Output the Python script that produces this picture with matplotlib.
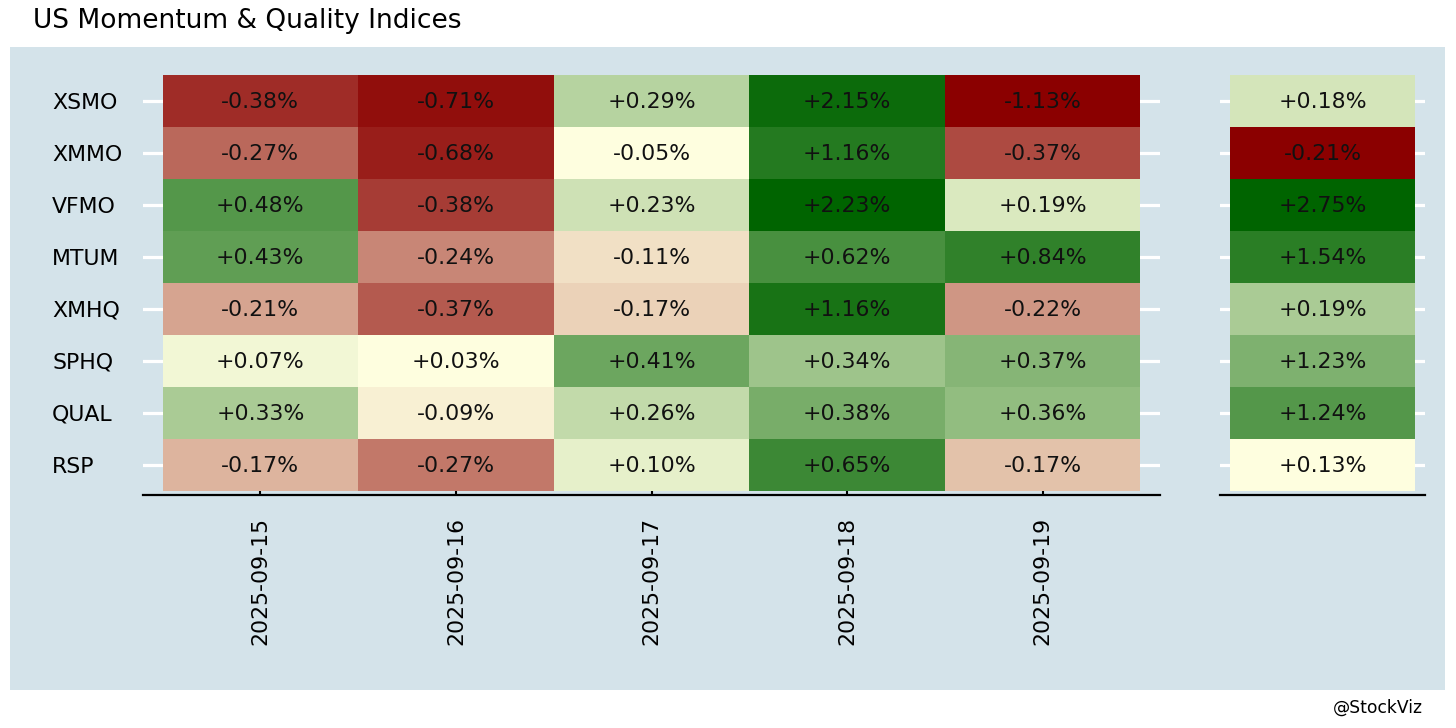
import numpy as np
import matplotlib
matplotlib.use("Agg")
import matplotlib.pyplot as plt
from matplotlib.colors import LinearSegmentedColormap
from matplotlib.patches import Rectangle

# ---------------- data ----------------
tickers = ["XSMO", "XMMO", "VFMO", "MTUM", "XMHQ", "SPHQ", "QUAL", "RSP"]
dates = ["2025-09-15", "2025-09-16", "2025-09-17", "2025-09-18", "2025-09-19"]

# daily returns (%), rows = tickers, cols = dates
ret_0915 = [-0.383, -0.273, 0.48, 0.43, -0.21, 0.07, 0.33, -0.174]
ret_0916 = [-0.71, -0.68, -0.378, -0.24, -0.368, 0.03, -0.09, -0.268]
ret_0917 = [0.29, -0.05, 0.23, -0.11, -0.167, 0.41, 0.26, 0.10]
ret_0918 = [2.15, 1.158, 2.23, 0.62, 1.162, 0.34, 0.38, 0.65]
ret_0919 = [-1.13, -0.373, 0.19, 0.84, -0.22, 0.37, 0.36, -0.171]

# cumulative (week) returns (%)
week_ret = [0.18, -0.21, 2.75, 1.54, 0.19, 1.23, 1.24, 0.13]

daily = np.column_stack([ret_0915, ret_0916, ret_0917, ret_0918, ret_0919])
weekly = np.array(week_ret).reshape(-1, 1)

# ---------------- styling ----------------
W, H = 1456, 728
BG = "#d4e3ea"
cmap = LinearSegmentedColormap.from_list("rg", ["darkred", "lightyellow", "darkgreen"])
FS = 15.8


def rank_scale(values):
    """Rank-based colour position: negatives -> [0, .5], positives -> [.5, 1]."""
    flat = values.ravel().astype(float)
    out = np.zeros_like(flat)
    for mask, lo in ((flat < 0, 0.0), (flat >= 0, 0.5)):
        idx = np.where(mask)[0]
        n = len(idx)
        if n == 0:
            continue
        order = np.argsort(np.argsort(flat[idx]))
        if n > 1:
            out[idx] = lo + 0.5 * order / (n - 1)
        else:
            out[idx] = 0.0 if lo == 0.0 else 1.0
    return out.reshape(values.shape)


fig = plt.figure(figsize=(W / 100, H / 100), dpi=100)
fig.patch.set_facecolor("white")
fig.patches.append(Rectangle((10 / W, 38 / H), 1435 / W, 643 / H,
                             transform=fig.transFigure, facecolor=BG,
                             edgecolor="none", zorder=-10))

fig.text(33 / W, 1 - 21 / H, "US Momentum & Quality Indices", fontsize=19,
         ha="left", va="center", color="black")
fig.text(1423 / W, 1 - 708 / H, "@StockViz", fontsize=12.3,
         ha="right", va="center", color="black")


def draw(ax, data, xlabels, xmargin):
    nr, nc = data.shape
    ax.set_facecolor(BG)
    ax.pcolormesh(np.arange(nc + 1) - 0.5, np.arange(nr + 1) - 0.5,
                  rank_scale(data), cmap=cmap, vmin=0, vmax=1, zorder=1)
    for i in range(nr):
        for j in range(nc):
            ax.text(j, i + 0.02, f"{data[i, j]:+.2f}%", ha="center", va="center",
                    fontsize=FS, color="#111111", zorder=3)
    ax.set_xlim(-0.5 - xmargin, nc - 0.5 + xmargin)
    ax.set_ylim(nr - 0.5 + 0.077, -0.5)
    ax.set_yticks(range(nr))
    ax.yaxis.grid(True, color="white", linewidth=2.3)
    ax.xaxis.grid(False)
    ax.set_axisbelow(True)
    for s in ("left", "right", "top"):
        ax.spines[s].set_visible(False)
    ax.spines["bottom"].set_color("black")
    ax.spines["bottom"].set_linewidth(1.6)
    ax.tick_params(axis="y", length=0)
    if xlabels is None:
        ax.set_xticks([])
    else:
        ax.set_xticks(range(nc))
        ax.set_xticklabels(xlabels, rotation=90, fontsize=FS)
        ax.tick_params(axis="x", direction="in", length=6, width=1.5,
                       color="black", pad=15.5)


ax1 = fig.add_axes([143 / W, 233 / H, 1017 / W, 420 / H])
draw(ax1, daily, dates, 0.1)
ax1.set_yticklabels(tickers, fontsize=FS)
ax1.tick_params(axis="y", pad=65.5)
for lab in ax1.get_yticklabels():
    lab.set_horizontalalignment("left")

ax2 = fig.add_axes([1220 / W, 233 / H, 205 / W, 420 / H])
draw(ax2, weekly, None, 0.054)
ax2.set_yticklabels([])

fig.savefig("out.png", dpi=100, facecolor="white")
